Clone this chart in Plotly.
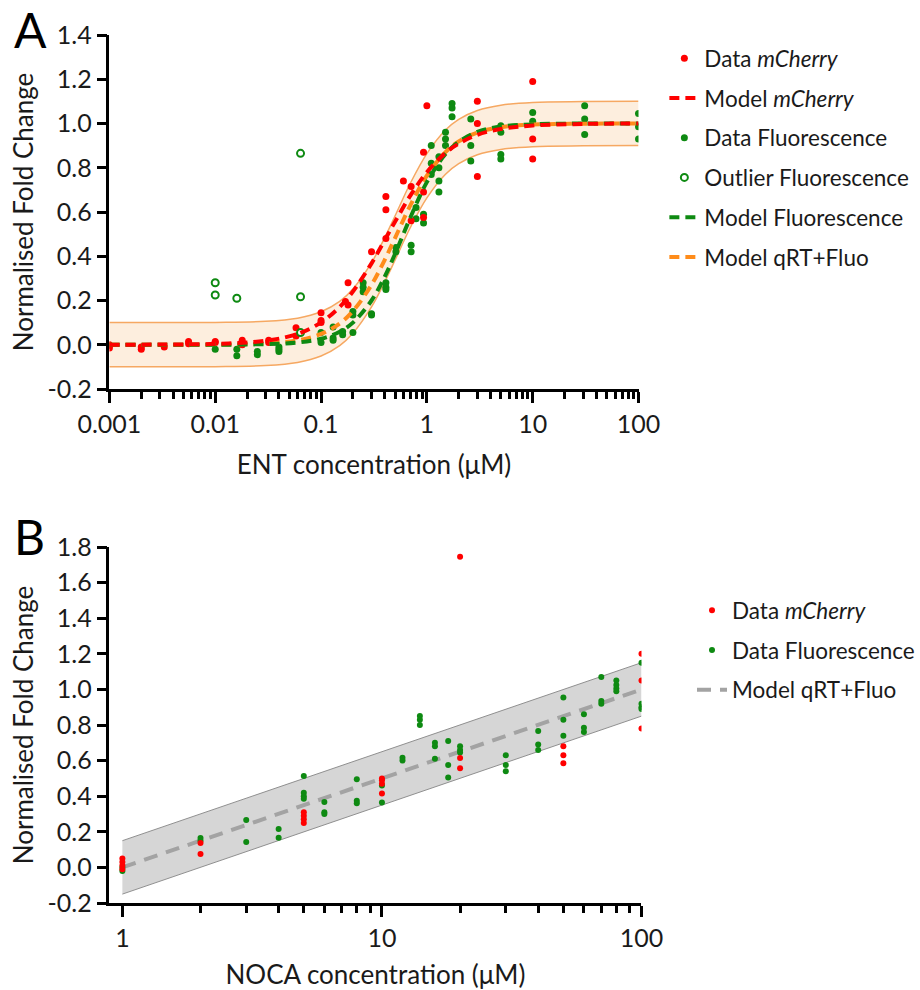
import plotly.graph_objects as go

# ---------------- Panel A data (ENT) ----------------
a_red_x = [0.001, 0.001, 0.001, 0.002, 0.002, 0.0033, 0.0056, 0.0056, 0.01, 0.01,
           0.018, 0.018, 0.032, 0.032, 0.058, 0.058, 0.1, 0.1, 0.1, 0.17, 0.18, 0.18,
           0.3, 0.41, 0.41, 0.41, 0.6, 0.71, 0.71, 0.93, 0.93, 0.93, 1.0,
           3.0, 3.0, 3.0, 10.0, 10.0, 10.0]
a_red_y = [-0.015, -0.005, 0.0, -0.02, -0.01, -0.01, 0.005, 0.015, 0.01, 0.015,
           0.0, 0.02, 0.02, 0.01, 0.077, 0.04, 0.145, 0.1, 0.11, 0.195, 0.28, 0.18,
           0.42, 0.67, 0.61, 0.48, 0.74, 0.715, 0.56, 0.87, 0.69, 0.575, 1.08,
           1.10, 1.0, 0.76, 1.19, 0.93, 0.84]

a_grn_x = [0.01, 0.016, 0.016, 0.025, 0.025, 0.04, 0.04, 0.04, 0.1, 0.1,
           0.13, 0.13, 0.13, 0.16, 0.16, 0.2, 0.2, 0.2, 0.25, 0.25, 0.25, 0.3, 0.3,
           0.41, 0.41, 0.41, 0.51, 0.51, 0.71, 0.71, 0.79, 0.79, 0.93, 0.93,
           1.1, 1.1, 1.1, 1.3, 1.3, 1.3, 1.3, 1.5, 1.5, 1.5, 1.73, 1.73, 1.73,
           2.6, 2.6, 2.6, 5.0, 5.0, 5.0, 5.0, 10.0, 10.0, 31.0, 31.0, 31.0,
           100.0, 100.0, 100.0]
a_grn_y = [-0.02, -0.02, -0.05, -0.03, -0.045, -0.01, -0.03, -0.02, 0.055, 0.01,
           0.08, 0.03, 0.02, 0.06, 0.045, 0.15, 0.135, 0.055, 0.28, 0.26, 0.24, 0.135, 0.14,
           0.28, 0.26, 0.25, 0.44, 0.42, 0.45, 0.42, 0.62, 0.57, 0.59, 0.55,
           0.9, 0.82, 0.77, 0.85, 0.8, 0.74, 0.69, 0.96, 0.93, 0.9, 1.09, 1.07, 1.03,
           1.02, 0.9, 0.83, 0.99, 0.96, 0.86, 0.84, 1.05, 1.01, 1.08, 1.02, 0.95,
           1.045, 0.985, 0.93]

a_out_x = [0.01, 0.01, 0.016, 0.064, 0.064, 0.064]
a_out_y = [0.28, 0.225, 0.21, 0.865, 0.217, 0.055]

# model curves
a_model_x = [0.001, 0.003, 0.01, 0.03, 0.06, 0.1, 0.15, 0.2, 0.3, 0.4, 0.5, 0.7,
             1.0, 1.5, 2.0, 3.0, 5.0, 10.0, 30.0, 100.0]
a_model_red = [0.0, 0.001, 0.004, 0.018, 0.049, 0.101, 0.171, 0.241, 0.368, 0.473,
               0.556, 0.675, 0.780, 0.867, 0.909, 0.949, 0.975, 0.991, 0.998, 1.0]
a_model_grn = [0.0, 0.0, 0.0, 0.003, 0.010, 0.027, 0.059, 0.100, 0.200, 0.308,
               0.410, 0.576, 0.735, 0.862, 0.917, 0.962, 0.986, 0.996, 1.0, 1.0]
a_model_org = [0.0, 0.0, 0.001, 0.006, 0.020, 0.049, 0.096, 0.152, 0.271, 0.384,
               0.482, 0.631, 0.764, 0.871, 0.919, 0.959, 0.983, 0.995, 0.999, 1.0]
a_band_half = 0.1

a_xticks = [0.001, 0.01, 0.1, 1, 10, 100]
a_xticklabels = ["0.001", "0.01", "0.1", "1", "10", "100"]
a_yticks = [-0.2, 0.0, 0.2, 0.4, 0.6, 0.8, 1.0, 1.2, 1.4]
a_yticklabels = ["-0.2", "0.0", "0.2", "0.4", "0.6", "0.8", "1.0", "1.2", "1.4"]

# ---------------- Panel B data (NOCA) ----------------
b_red_x = [1, 1, 1, 1, 2, 2, 5, 5, 5, 5, 10, 10, 10, 10, 20, 20, 20, 50, 50, 50, 100, 100, 100]
b_red_y = [0.05, 0.03, 0.01, -0.01, 0.137, 0.075, 0.31, 0.29, 0.27, 0.25,
           0.50, 0.49, 0.47, 0.415, 1.745, 0.615, 0.557, 0.68, 0.63, 0.585, 1.20, 1.05, 0.78]

b_grn_x = [1, 1, 2, 2, 3, 3, 4, 4, 5, 5, 5, 5, 6, 6, 6, 8, 8, 8, 10, 10, 12, 12,
           14, 14, 14, 16, 16, 16, 18, 18, 18, 20, 20, 20, 30, 30, 30, 40, 40, 40,
           50, 50, 50, 60, 60, 60, 70, 70, 70, 80, 80, 80, 80, 100, 100, 100, 100]
b_grn_y = [0.0, -0.02, 0.165, 0.15, 0.266, 0.143, 0.216, 0.167, 0.513, 0.42, 0.40, 0.385,
           0.367, 0.31, 0.30, 0.495, 0.375, 0.36, 0.46, 0.365, 0.616, 0.60,
           0.85, 0.83, 0.80, 0.70, 0.68, 0.61, 0.71, 0.575, 0.505, 0.68, 0.66, 0.645,
           0.63, 0.575, 0.54, 0.766, 0.69, 0.66, 0.955, 0.83, 0.74, 0.86, 0.785, 0.76,
           1.07, 0.935, 0.92, 1.05, 1.025, 1.005, 0.99, 1.15, 0.92, 0.90, 0.89]

b_model_x = [1, 100]
b_model_y = [0.0, 1.0]
b_band_half = 0.15

b_xticks = [1, 10, 100]
b_xticklabels = ["1", "10", "100"]
b_yticks = [-0.2, 0.0, 0.2, 0.4, 0.6, 0.8, 1.0, 1.2, 1.4, 1.6, 1.8]
b_yticklabels = ["-0.2", "0.0", "0.2", "0.4", "0.6", "0.8", "1.0", "1.2", "1.4", "1.6", "1.8"]

# ---------------- styling ----------------
FONT = "Lato"
RED = "#FF0000"
GREEN = "#0E8A12"
ORANGE = "#FF8C1A"
GRAY = "#A3A3A3"

fig = go.Figure()

# Panel A band
a_upper = [v + a_band_half for v in a_model_org]
a_lower = [v - a_band_half for v in a_model_org]
fig.add_trace(go.Scatter(x=a_model_x, y=a_lower, mode="lines", line=dict(color="#F6A862", width=1.5, shape="spline"),
                         showlegend=False, hoverinfo="skip", xaxis="x", yaxis="y"))
fig.add_trace(go.Scatter(x=a_model_x, y=a_upper, mode="lines", line=dict(color="#F6A862", width=1.5, shape="spline"),
                         fill="tonexty", fillcolor="rgba(252,226,200,0.6)",
                         showlegend=False, hoverinfo="skip", xaxis="x", yaxis="y"))

fig.add_trace(go.Scatter(x=a_grn_x, y=a_grn_y, mode="markers", name="Data Fluorescence",
                         marker=dict(color=GREEN, size=7), legendrank=3, legendgroup="a3",
                         xaxis="x", yaxis="y", legend="legend"))
fig.add_trace(go.Scatter(x=a_red_x, y=a_red_y, mode="markers", name="Data <i>mCherry</i>",
                         marker=dict(color=RED, size=7), legendrank=1, legendgroup="a1",
                         xaxis="x", yaxis="y", legend="legend"))
fig.add_trace(go.Scatter(x=a_out_x, y=a_out_y, mode="markers", name="Outlier Fluorescence",
                         marker=dict(color="white", size=7, line=dict(color=GREEN, width=2)),
                         legendrank=4, legendgroup="a4", xaxis="x", yaxis="y", legend="legend"))
fig.add_trace(go.Scatter(x=a_model_x, y=a_model_org, mode="lines", name="Model qRT+Fluo",
                         line=dict(color=ORANGE, width=4, dash="10px,6px", shape="spline"),
                         legendrank=6, legendgroup="a6", xaxis="x", yaxis="y", legend="legend"))
fig.add_trace(go.Scatter(x=a_model_x, y=a_model_grn, mode="lines", name="Model Fluorescence",
                         line=dict(color=GREEN, width=4, dash="10px,6px", shape="spline"),
                         legendrank=5, legendgroup="a5", xaxis="x", yaxis="y", legend="legend"))
fig.add_trace(go.Scatter(x=a_model_x, y=a_model_red, mode="lines", name="Model <i>mCherry</i>",
                         line=dict(color=RED, width=4, dash="10px,6px", shape="spline"),
                         legendrank=2, legendgroup="a2", xaxis="x", yaxis="y", legend="legend"))

# Panel B band
b_upper = [v + b_band_half for v in b_model_y]
b_lower = [v - b_band_half for v in b_model_y]
fig.add_trace(go.Scatter(x=b_model_x, y=b_lower, mode="lines", line=dict(color="#8F8F8F", width=1),
                         showlegend=False, hoverinfo="skip", xaxis="x2", yaxis="y2"))
fig.add_trace(go.Scatter(x=b_model_x, y=b_upper, mode="lines", line=dict(color="#8F8F8F", width=1),
                         fill="tonexty", fillcolor="#D6D6D6",
                         showlegend=False, hoverinfo="skip", xaxis="x2", yaxis="y2"))
fig.add_trace(go.Scatter(x=b_model_x, y=b_model_y, mode="lines", name="Model qRT+Fluo",
                         line=dict(color=GRAY, width=4, dash="14px,9px"),
                         legendrank=3, legendgroup="b3", xaxis="x2", yaxis="y2", legend="legend2"))
fig.add_trace(go.Scatter(x=b_grn_x, y=b_grn_y, mode="markers", name="Data Fluorescence",
                         marker=dict(color=GREEN, size=6), legendrank=2, legendgroup="b2",
                         xaxis="x2", yaxis="y2", legend="legend2"))
fig.add_trace(go.Scatter(x=b_red_x, y=b_red_y, mode="markers", name="Data <i>mCherry</i>",
                         marker=dict(color=RED, size=6), legendrank=1, legendgroup="b1",
                         xaxis="x2", yaxis="y2", legend="legend2"))

W, H = 920, 990
tickfont = dict(family=FONT, size=25, color="#1a1a1a")
titlefont = dict(family=FONT, size=26, color="#1a1a1a")
legfont = dict(family=FONT, size=22.5, color="#1a1a1a")

def minor_vals(lo, hi):
    vals = []
    for d in range(lo, hi):
        for m in range(2, 10):
            vals.append(m * 10 ** d)
    return vals

axis_common = dict(showline=True, linecolor="black", linewidth=2.5, ticks="outside",
                   tickcolor="black", tickwidth=2.5, showgrid=False, zeroline=False,
                   tickfont=tickfont, automargin=False)

fig.update_layout(
    width=W, height=H, margin=dict(l=0, r=0, t=0, b=0),
    paper_bgcolor="white", plot_bgcolor="white",
    font=dict(family=FONT, color="#1a1a1a"),
    xaxis=dict(type="log", range=[-3, 2], domain=[110 / W, 642 / W], anchor="y",
               tickmode="array", tickvals=a_xticks, ticktext=a_xticklabels, ticklen=11,
               minor=dict(tickmode="array", tickvals=minor_vals(-3, 2), ticks="outside",
                          ticklen=7, tickwidth=2.5, tickcolor="black", showgrid=False),
               title=dict(text="ENT concentration (μM)", font=titlefont, standoff=20),
               **axis_common),
    yaxis=dict(range=[-0.2, 1.4], domain=[1 - 389 / H, 1 - 35 / H], anchor="x",
               tickmode="array", tickvals=a_yticks, ticktext=a_yticklabels, ticklen=10,
               title=dict(text="Normalised Fold Change", font=titlefont, standoff=7),
               **axis_common),
    xaxis2=dict(type="log", range=[-0.05, 2], domain=[110 / W, 645 / W], anchor="y2",
                tickmode="array", tickvals=b_xticks, ticktext=b_xticklabels, ticklen=11,
                minor=dict(tickmode="array", tickvals=minor_vals(0, 2), ticks="outside",
                           ticklen=7, tickwidth=2.5, tickcolor="black", showgrid=False),
                title=dict(text="NOCA concentration (μM)", font=titlefont, standoff=16),
                **axis_common),
    yaxis2=dict(range=[-0.2, 1.8], domain=[1 - 903 / H, 1 - 547 / H], anchor="x2",
                tickmode="array", tickvals=b_yticks, ticktext=b_yticklabels, ticklen=10,
                title=dict(text="Normalised Fold Change", font=titlefont, standoff=7),
                **axis_common),
    legend=dict(x=668 / W, y=1 - 37 / H, xanchor="left", yanchor="top",
                font=legfont, tracegroupgap=7.5, bgcolor="rgba(0,0,0,0)", itemwidth=30),
    legend2=dict(x=696 / W, y=1 - 589 / H, xanchor="left", yanchor="top",
                 font=legfont, tracegroupgap=7.5, bgcolor="rgba(0,0,0,0)", itemwidth=30),
    annotations=[
        dict(text="A", x=12 / W, y=1 - 30 / H, xref="paper", yref="paper", xanchor="left",
             yanchor="middle", showarrow=False, font=dict(family=FONT, size=48, color="black")),
        dict(text="B", x=12 / W, y=1 - 536 / H, xref="paper", yref="paper", xanchor="left",
             yanchor="middle", showarrow=False, font=dict(family=FONT, size=48, color="black")),
    ],
)

fig.write_html("out.html")
